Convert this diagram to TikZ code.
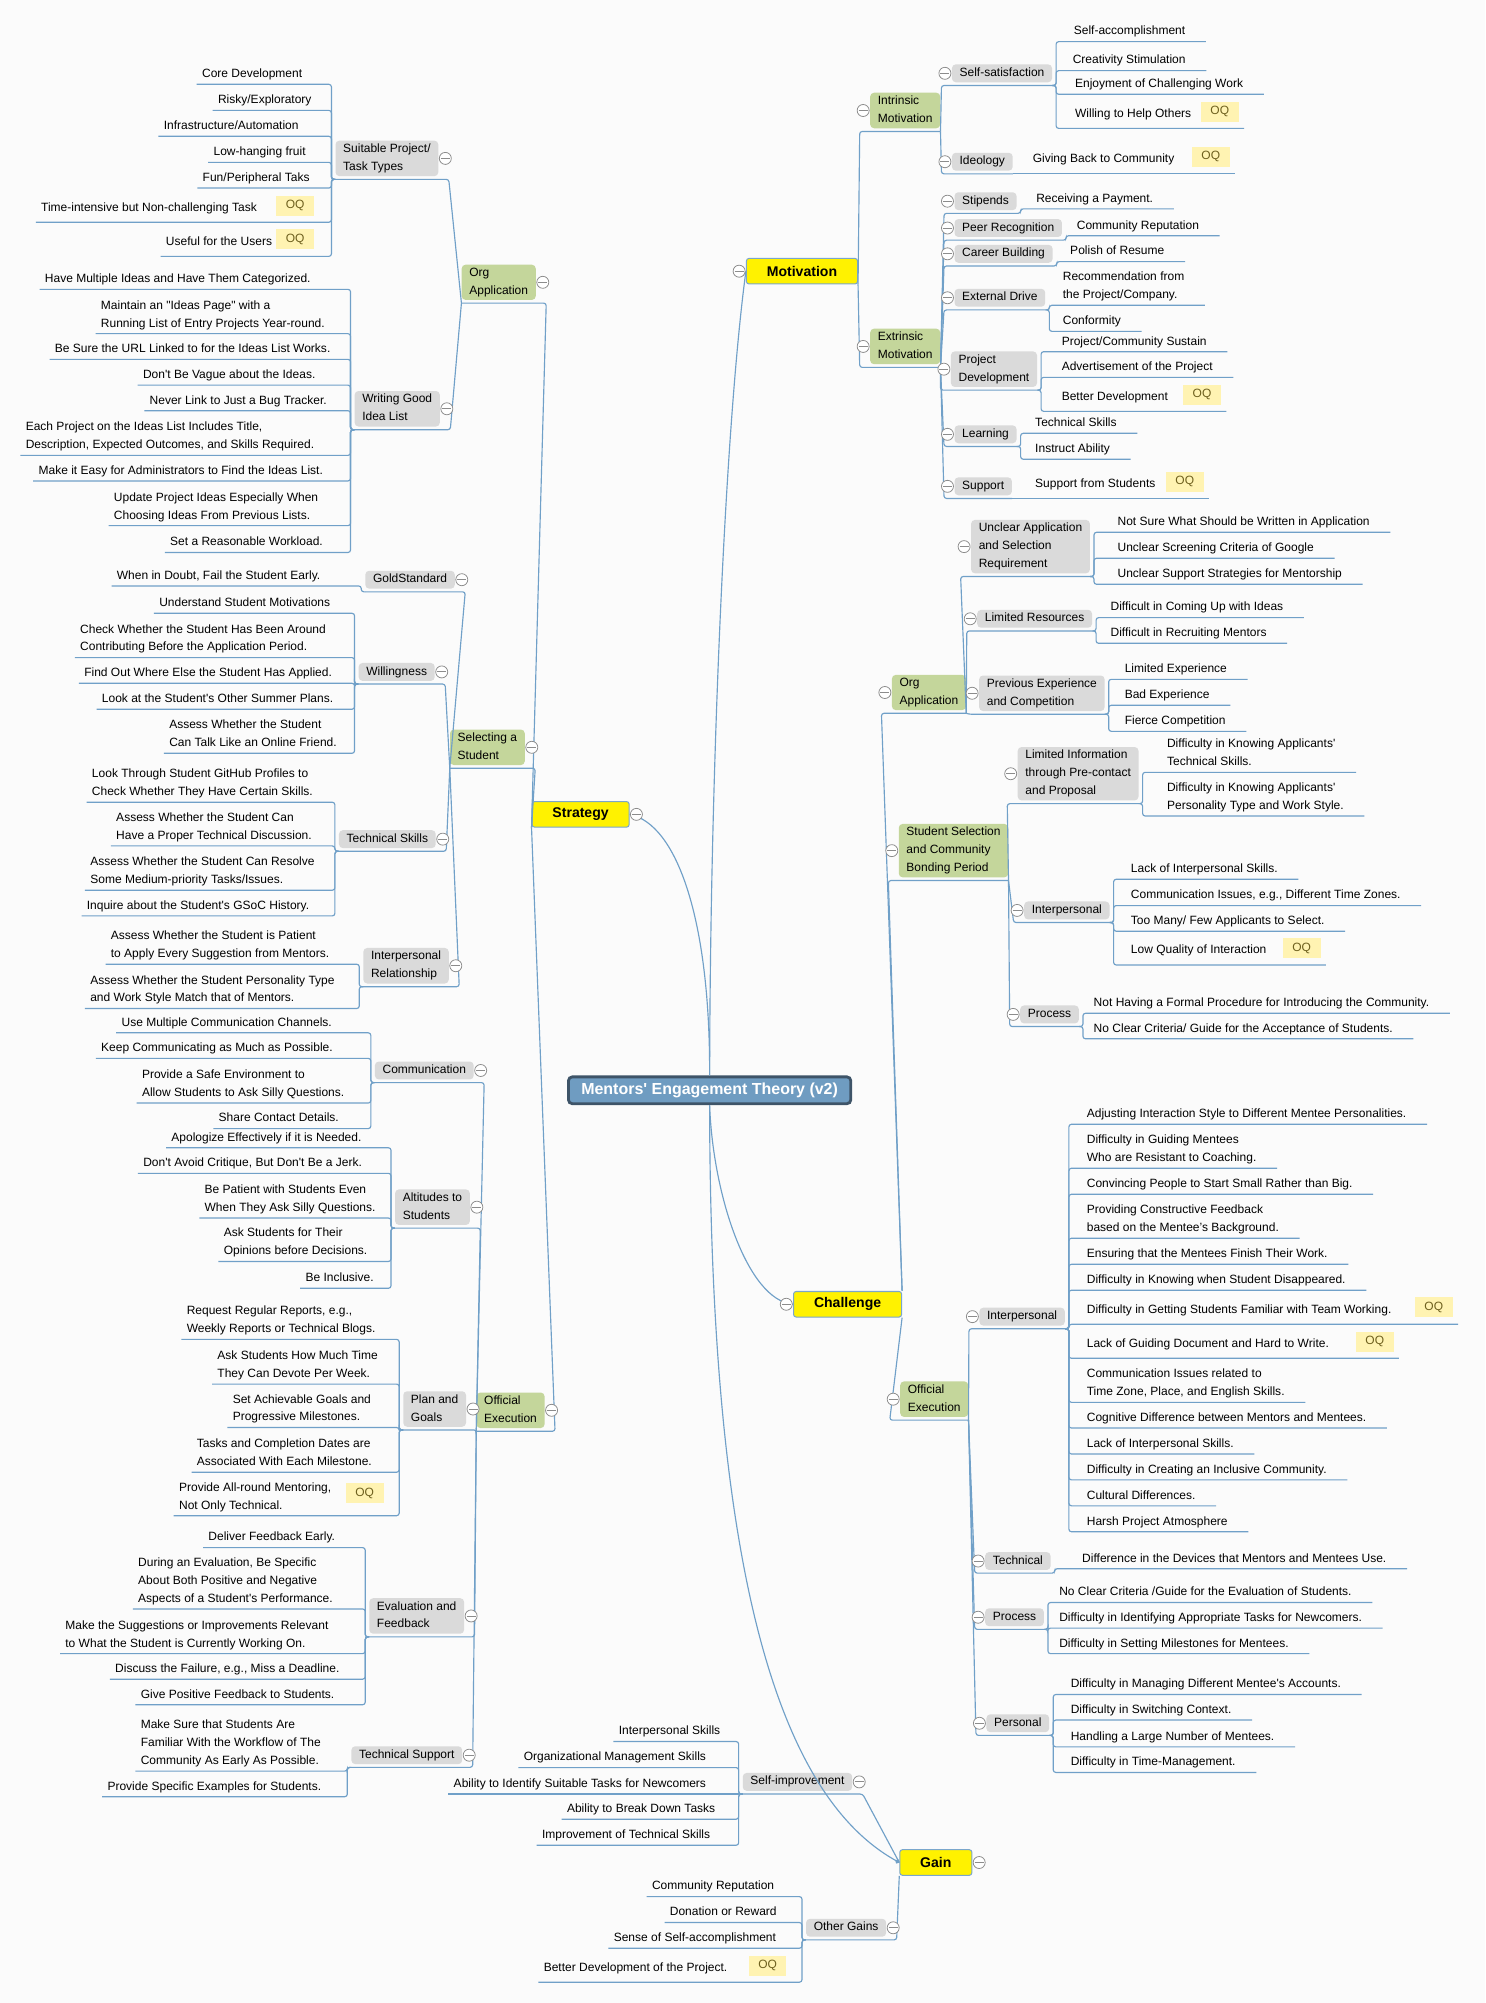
\documentclass[tikz,border=0pt]{standalone}
\usepackage{xcolor}
\usepackage{fontspec}
\setmainfont{Liberation Sans}[Ligatures=TeXOff]
\usepackage{tikz}
\usetikzlibrary{shapes, arrows.meta, positioning}

\definecolor{bgcol}{RGB}{251,251,251}
\definecolor{lineblue}{RGB}{112,160,200}
\definecolor{rootfill}{RGB}{111,156,193}
\definecolor{rootline}{RGB}{62,84,104}
\definecolor{mainline}{RGB}{122,166,204}
\definecolor{greenfill}{RGB}{196,214,155}
\definecolor{grayfill}{RGB}{218,218,218}
\definecolor{oqfill}{RGB}{255,243,178}
\definecolor{oqtext}{RGB}{110,96,30}
\definecolor{minusgray}{RGB}{140,140,140}
\newcommand{\mapfont}{\fontsize{9.4}{14}\selectfont}

\begin{document}
\begin{tikzpicture}
  [
    x=1pt, y=-1pt,
    Root/.style={rounded corners=3pt, fill=rootfill, draw=rootline, line width=2.2pt, text=white, font=\fontsize{12.5}{15}\selectfont\bfseries, minimum width=221pt, minimum height=21pt, inner sep=0pt},
    Main/.style={fill=yellow, draw=mainline, line width=0.8pt, rounded corners=2pt, font=\fontsize{11}{13}\selectfont\bfseries, inner xsep=16pt, inner ysep=0pt, minimum height=20pt},
    Green/.style={fill=greenfill, rounded corners=3pt, inner xsep=6pt, inner ysep=2.5pt, outer ysep=2.5pt, align=left, font=\mapfont, execute at end node={\rule[-2pt]{0pt}{2pt}}},
    Gray/.style={Green, fill=grayfill, minimum height=14pt},
    Leaf/.style={anchor=south west, inner xsep=4pt, inner ysep=3pt, align=left, font=\mapfont, execute at end node={\rule[-2pt]{0pt}{2pt}}},
    LeafQ/.style={Leaf, execute at end node={\rule[-5.5pt]{0pt}{5.5pt}}},
    Tag/.style={fill=oqfill, text=oqtext, font=\mapfont, minimum width=29.5pt, minimum height=15.6pt, inner sep=0pt},
    Minus/.style={circle, draw=minusgray, fill=white, line width=0.6pt, minimum size=9.4pt, inner sep=0pt, path picture={\draw[minusgray, line width=0.7pt] ([xshift=1.2pt]path picture bounding box.west) -- ([xshift=-1.2pt]path picture bounding box.east);}},
    Line/.style={draw=lineblue, line width=0.9pt, rounded corners=2pt}
  ]
  \fill[bgcol] (0,0) rectangle (1162.5,1568);
  \useasboundingbox (0,0) rectangle (1162.5,1568);

  % Nodes
  \node[Root] (r) at(555.5, 853.5) {Mentors' Engagement Theory (v2)};
  \node[Main] (m) at(627.8, 212.3) {Motivation};
  \node[Main] (s) at(454.5, 637.5) {Strategy};
  \node[Main] (c) at(663.5, 1021) {Challenge};
  \node[Main] (g) at(732.6, 1458) {Gain};

  % Motivation
  \node[Green, anchor=west] (m1) at(681, 86.5) {Intrinsic\\Motivation};
  \node[Green, anchor=west] (m2) at(681, 271.2) {Extrinsic\\Motivation};
  \node[Gray, anchor=west] (m1a) at(745, 57.4) {Self-satisfaction};
  \node[Gray, anchor=west] (m1b) at(745, 126.6) {Ideology};
  \node[Gray, anchor=west] (m2a) at(747, 157.5) {Stipends};
  \node[Gray, anchor=west] (m2b) at(747, 178.5) {Peer Recognition};
  \node[Gray, anchor=west] (m2c) at(747, 198.7) {Career Building};
  \node[Gray, anchor=west] (m2d) at(747, 233.1) {External Drive};
  \node[Gray, anchor=west] (m2e) at(744.2, 289) {Project\\Development};
  \node[Gray, anchor=west] (m2f) at(747, 340) {Learning};
  \node[Gray, anchor=west] (m2g) at(747, 380.7) {Support};

  \node[Leaf] (m1a1) at(836.4, 32.6) {Self-accomplishment};
  \node[Leaf] (m1a2) at(835.6, 55.3) {Creativity Stimulation};
  \node[Leaf] (m1a3) at(837.4, 73.8) {Enjoyment of Challenging Work};
  \node[LeafQ] (m1a4) at(837.4, 100.5) {Willing to Help Others};
  \node[LeafQ] (m1b1) at(804.3, 136.1) {Giving Back to Community};
  \node[Leaf] (m2a1) at(807, 163.5) {Receiving a Payment.};
  \node[Leaf] (m2b1) at(838.8, 184.5) {Community Reputation};
  \node[Leaf] (m2c1) at(833.6, 204.8) {Polish of Resume};
  \node[Leaf] (m2d1) at(827.8, 239) {Recommendation from\\the Project/Company.};
  \node[Leaf] (m2d2) at(827.8, 259.4) {Conformity};
  \node[Leaf] (m2e1) at(827, 275.3) {Project/Community Sustain};
  \node[Leaf] (m2e2) at(827, 295.4) {Advertisement of the Project};
  \node[LeafQ] (m2e3) at(827, 322) {Better Development};
  \node[Leaf] (m2f1) at(806.2, 339.2) {Technical Skills};
  \node[Leaf] (m2f2) at(806.2, 359.5) {Instruct Ability};
  \node[LeafQ] (m2g1) at(806.2, 390.2) {Support from Students};
  \node[Tag] (q1) at(954.9, 87.4) {OQ};
  \node[Tag] (q2) at(947.8, 122.6) {OQ};
  \node[Tag] (q3) at(941, 309) {OQ};
  \node[Tag] (q4) at(927.5, 377) {OQ};

  % Strategy
  \node[Green, anchor=east] (s1) at(419.6, 221) {Org\\Application};
  \node[Green, anchor=east] (s2) at(411, 585) {Selecting a\\Student};
  \node[Green, anchor=east] (s3) at(426.5, 1104) {Official\\Execution};
  \node[Gray, anchor=east] (s1a) at(343.3, 124) {Suitable Project/\\Task Types};
  \node[Gray, anchor=east] (s1b) at(344.5, 320) {Writing Good\\Idea List};
  \node[Gray, anchor=east] (s2a) at(356.2, 453.8) {GoldStandard};
  \node[Gray, anchor=east] (s2b) at(340.5, 526) {Willingness};
  \node[Gray, anchor=east] (s2c) at(341.3, 656.9) {Technical Skills};
  \node[Gray, anchor=east] (s2d) at(351.5, 756) {Interpersonal\\Relationship};
  \node[Gray, anchor=east] (s3a) at(371, 838) {Communication};
  \node[Gray, anchor=east] (s3b) at(368, 945) {Altitudes to\\Students};
  \node[Gray, anchor=east] (s3c) at(365, 1103) {Plan and\\Goals};
  \node[Gray, anchor=east] (s3d) at(363.5, 1265) {Evaluation and\\Feedback};
  \node[Gray, anchor=east] (s3e) at(362, 1374) {Technical Support};

  \node[Leaf] (s1a1) at(154, 66) {Core Development};
  \node[Leaf] (s1a2) at(166.5, 86.4) {Risky/Exploratory};
  \node[Leaf] (s1a3) at(124, 106.7) {Infrastructure/Automation};
  \node[Leaf] (s1a4) at(163, 127.1) {Low-hanging fruit};
  \node[Leaf] (s1a5) at(154.5, 147.2) {Fun/Peripheral Taks};
  \node[LeafQ] (s1a6) at(28, 174) {Time-intensive but Non-challenging Task};
  \node[LeafQ] (s1a7) at(125.7, 200.7) {Useful for the Users};
  \node[Tag] (q5) at(231.1, 161) {OQ};
  \node[Tag] (q6) at(231.1, 187.3) {OQ};
  \node[Leaf] (s1b1) at(31, 226.5) {Have Multiple Ideas and Have Them Categorized.};
  \node[Leaf] (s1b2) at(74.8, 261.2) {Maintain an "Ideas Page" with a\\Running List of Entry Projects Year-round.};
  \node[Leaf] (s1b3) at(38.8, 281.3) {Be Sure the URL Linked to for the Ideas List Works.};
  \node[Leaf] (s1b4) at(107.8, 301.5) {Don't Be Vague about the Ideas.};
  \node[Leaf] (s1b5) at(113, 321.5) {Never Link to Just a Bug Tracker.};
  \node[Leaf] (s1b6) at(16, 356.5) {Each Project on the Ideas List Includes Title,\\Description, Expected Outcomes, and Skills Required.};
  \node[Leaf] (s1b7) at(26, 376.5) {Make it Easy for Administrators to Find the Ideas List.};
  \node[Leaf] (s1b8) at(85, 411.5) {Update Project Ideas Especially When\\Choosing Ideas From Previous Lists.};
  \node[Leaf] (s1b9) at(129, 432.5) {Set a Reasonable Workload.};

  \node[Leaf] (s2a1) at(87.3, 458.7) {When in Doubt, Fail the Student Early.};
  \node[Leaf] (s2b1) at(120.5, 480.1) {Understand Student Motivations};
  \node[Leaf] (s2b2) at(58.6, 514.8) {Check Whether the Student Has Been Around\\Contributing Before the Application Period.};
  \node[Leaf] (s2b3) at(61.8, 534.9) {Find Out Where Else the Student Has Applied.};
  \node[Leaf] (s2b4) at(75.6, 555.2) {Look at the Student's Other Summer Plans.};
  \node[Leaf] (s2b5) at(128.3, 589.7) {Assess Whether the Student\\Can Talk Like an Online Friend.};
  \node[Leaf] (s2c1) at(67.8, 628) {Look Through Student GitHub Profiles to\\Check Whether They Have Certain Skills.};
  \node[Leaf] (s2c2) at(86.8, 662.2) {Assess Whether the Student Can\\Have a Proper Technical Discussion.};
  \node[Leaf] (s2c3) at(66.5, 696.9) {Assess Whether the Student Can Resolve\\Some Medium-priority Tasks/Issues.};
  \node[Leaf] (s2c4) at(63.8, 717) {Inquire about the Student's GSoC History.};
  \node[Leaf] (s2d1) at(82.6, 754.8) {Assess Whether the Student is Patient\\to Apply Every Suggestion from Mentors.};
  \node[Leaf] (s2d2) at(66.5, 789.5) {Assess Whether the Student Personality Type\\and Work Style Match that of Mentors.};

  \node[Leaf] (s3a1) at(91, 808.5) {Use Multiple Communication Channels.};
  \node[Leaf] (s3a2) at(75, 828.5) {Keep Communicating as Much as Possible.};
  \node[Leaf] (s3a3) at(107, 863.5) {Provide a Safe Environment to\\Allow Students to Ask Silly Questions.};
  \node[Leaf] (s3a4) at(167, 883.5) {Share Contact Details.};
  \node[Leaf] (s3b1) at(130, 898.5) {Apologize Effectively if it is Needed.};
  \node[Leaf] (s3b2) at(108, 918.5) {Don't Avoid Critique, But Don't Be a Jerk.};
  \node[Leaf] (s3b3) at(156, 953.5) {Be Patient with Students Even\\When They Ask Silly Questions.};
  \node[Leaf] (s3b4) at(171, 987.5) {Ask Students for Their\\Opinions before Decisions.};
  \node[Leaf] (s3b5) at(235, 1008.5) {Be Inclusive.};
  \node[Leaf] (s3c1) at(142, 1048.5) {Request Regular Reports, e.g.,\\Weekly Reports or Technical Blogs.};
  \node[Leaf] (s3c2) at(166, 1083.5) {Ask Students How Much Time\\They Can Devote Per Week.};
  \node[Leaf] (s3c3) at(178, 1117.5) {Set Achievable Goals and\\Progressive Milestones.};
  \node[Leaf] (s3c4) at(150, 1152.5) {Tasks and Completion Dates are\\Associated With Each Milestone.};
  \node[Leaf] (s3c5) at(136, 1186.5) {Provide All-round Mentoring,\\Not Only Technical.};
  \node[Tag] (q7) at(285.5, 1169) {OQ};
  \node[Leaf] (s3d1) at(159, 1211.5) {Deliver Feedback Early.};
  \node[Leaf] (s3d2) at(104, 1259.5) {During an Evaluation, Be Specific\\About Both Positive and Negative\\Aspects of a Student's Performance.};
  \node[Leaf] (s3d3) at(47, 1294.5) {Make the Suggestions or Improvements Relevant\\to What the Student is Currently Working On.};
  \node[Leaf] (s3d4) at(86, 1314.5) {Discuss the Failure, e.g., Miss a Deadline.};
  \node[Leaf] (s3d5) at(106, 1334.5) {Give Positive Feedback to Students.};
  \node[Leaf] (s3e1) at(106, 1386.5) {Make Sure that Students Are\\Familiar With the Workflow of The\\Community As Early As Possible.};
  \node[Leaf] (s3e2) at(80, 1406.5) {Provide Specific Examples for Students.};

  % Challenge
  \node[Green, anchor=west] (c1) at(698, 542.1) {Org\\Application};
  \node[Green, anchor=west] (c2) at(703.4, 665.9) {Student Selection\\and Community\\Bonding Period};
  \node[Green, anchor=west] (c3) at(704.5, 1095.3) {Official\\Execution};
  \node[Gray, anchor=west] (c1a) at(760, 427.9) {Unclear Application\\and Selection\\Requirement};
  \node[Gray, anchor=west] (c1b) at(764.8, 484.4) {Limited Resources};
  \node[Gray, anchor=west] (c1c) at(766.3, 542.7) {Previous Experience\\and Competition};
  \node[Gray, anchor=west] (c2a) at(796.5, 605.7) {Limited Information\\through Pre-contact\\and Proposal};
  \node[Gray, anchor=west] (c2b) at(801.5, 712.7) {Interpersonal};
  \node[Gray, anchor=west] (c2c) at(798.4, 794.1) {Process};
  \node[Gray, anchor=west] (c3a) at(766.5, 1030.7) {Interpersonal};
  \node[Gray, anchor=west] (c3b) at(771, 1222) {Technical};
  \node[Gray, anchor=west] (c3c) at(771, 1266) {Process};
  \node[Gray, anchor=west] (c3d) at(772, 1349) {Personal};

  \node[Leaf] (c1a1) at(870.7, 416.7) {Not Sure What Should be Written in Application};
  \node[Leaf] (c1a2) at(870.7, 437) {Unclear Screening Criteria of Google};
  \node[Leaf] (c1a3) at(870.7, 457.4) {Unclear Support Strategies for Mentorship};
  \node[Leaf] (c1b1) at(865.2, 483.5) {Difficult in Coming Up with Ideas};
  \node[Leaf] (c1b2) at(865.2, 503.6) {Difficult in Recruiting Mentors};
  \node[Leaf] (c1c1) at(876.3, 531.8) {Limited Experience};
  \node[Leaf] (c1c2) at(876.3, 552.1) {Bad Experience};
  \node[Leaf] (c1c3) at(876.3, 572.5) {Fierce Competition};
  \node[Leaf] (c2a1) at(909.4, 604.6) {Difficulty in Knowing Applicants'\\Technical Skills.};
  \node[Leaf] (c2a2) at(909.4, 638.8) {Difficulty in Knowing Applicants'\\Personality Type and Work Style.};
  \node[Leaf] (c2b1) at(881.1, 688.3) {Lack of Interpersonal Skills.};
  \node[Leaf] (c2b2) at(881.1, 708.9) {Communication Issues, e.g., Different Time Zones.};
  \node[Leaf] (c2b3) at(881.1, 729) {Too Many/ Few Applicants to Select.};
  \node[LeafQ] (c2b4) at(881.1, 755.4) {Low Quality of Interaction};
  \node[Tag] (q8) at(1019, 742.4) {OQ};
  \node[Leaf] (c2c1) at(852, 793.2) {Not Having a Formal Procedure for Introducing the Community.};
  \node[Leaf] (c2c2) at(852, 813.2) {No Clear Criteria/ Guide for the Acceptance of Students.};

  \node[Leaf] (c3a1) at(846.6, 880.1) {Adjusting Interaction Style to Different Mentee Personalities.};
  \node[Leaf] (c3a2) at(846.6, 914.5) {Difficulty in Guiding Mentees\\Who are Resistant to Coaching.};
  \node[Leaf] (c3a3) at(846.6, 934.9) {Convincing People to Start Small Rather than Big.};
  \node[Leaf] (c3a4) at(846.6, 969.3) {Providing Constructive Feedback\\based on the Mentee’s Background.};
  \node[Leaf] (c3a5) at(846.6, 989.7) {Ensuring that the Mentees Finish Their Work.};
  \node[Leaf] (c3a6) at(846.6, 1010) {Difficulty in Knowing when Student Disappeared.};
  \node[LeafQ] (c3a7) at(846.6, 1036.7) {Difficulty in Getting Students Familiar with Team Working.};
  \node[LeafQ] (c3a8) at(846.6, 1063.3) {Lack of Guiding Document and Hard to Write.};
  \node[Leaf] (c3a9) at(846.6, 1097.8) {Communication Issues related to\\Time Zone, Place, and English Skills.};
  \node[Leaf] (c3a10) at(846.6, 1117.9) {Cognitive Difference between Mentors and Mentees.};
  \node[Leaf] (c3a11) at(846.6, 1138.2) {Lack of Interpersonal Skills.};
  \node[Leaf] (c3a12) at(846.6, 1158.5) {Difficulty in Creating an Inclusive Community.};
  \node[Leaf] (c3a13) at(846.6, 1178.8) {Cultural Differences.};
  \node[Leaf] (c3a14) at(846.6, 1199.1) {Harsh Project Atmosphere};
  \node[Tag] (q9) at(1122.4, 1023.3) {OQ};
  \node[Tag] (q10) at(1076.2, 1050.3) {OQ};
  \node[Leaf] (c3b1) at(843, 1228) {Difference in the Devices that Mentors and Mentees Use.};
  \node[Leaf] (c3c1) at(825, 1254.5) {No Clear Criteria /Guide for the Evaluation of Students.};
  \node[Leaf] (c3c2) at(825, 1274.5) {Difficulty in Identifying Appropriate Tasks for Newcomers.};
  \node[Leaf] (c3c3) at(825, 1294.5) {Difficulty in Setting Milestones for Mentees.};
  \node[Leaf] (c3d1) at(834, 1326.5) {Difficulty in Managing Different Mentee's Accounts.};
  \node[Leaf] (c3d2) at(834, 1346.5) {Difficulty in Switching Context.};
  \node[Leaf] (c3d3) at(834, 1367.5) {Handling a Large Number of Mentees.};
  \node[Leaf] (c3d4) at(834, 1387.5) {Difficulty in Time-Management.};

  % Gain
  \node[Gray, anchor=east] (g1) at(667.3, 1394.9) {Self-improvement};
  \node[Gray, anchor=east] (g2) at(693.9, 1509.1) {Other Gains};
  \node[Leaf] (g1a) at(480.2, 1363.3) {Interpersonal Skills};
  \node[Leaf] (g1b) at(405.8, 1383.7) {Organizational Management Skills};
  \node[Leaf] (g1c) at(351, 1404.4) {Ability to Identify Suitable Tasks for Newcomers};
  \node[Leaf] (g1d) at(439.7, 1424.1) {Ability to Break Down Tasks};
  \node[Leaf] (g1e) at(420.1, 1444.5) {Improvement of Technical Skills};
  \node[Leaf] (g2a) at(506.2, 1484.7) {Community Reputation};
  \node[Leaf] (g2b) at(520.2, 1505) {Donation or Reward};
  \node[Leaf] (g2c) at(476.3, 1525.1) {Sense of Self-accomplishment};
  \node[LeafQ] (g2d) at(421.5, 1551.7) {Better Development of the Project.};
  \node[Tag] (q11) at(600.9, 1538.7) {OQ};

  % Lines
  \path [Line] (r.north) .. controls (556, 600) and (568, 330) .. (m.west);
  \path [Line] (r.north) .. controls (556, 720) and (530, 645) .. (s.east);
  \path [Line] (r.south) .. controls (558, 935) and (585, 1018) .. (c.west);
  \path [Line, -{Circle[length=3.5pt]}] (r.south) .. controls (556, 1200) and (600, 1400) .. (g.west);

  \path [Line] (m.south east) -- ([xshift=-8pt]m1.south west) -- (m1.south east);
  \path [Line] (m.south east) -- ([xshift=-8pt]m2.south west) -- (m2.south east);
  \path [Line] (s.south west) -- ([xshift=8pt]s1.south east) -- (s1.south west);
  \path [Line] (s.south west) -- ([xshift=8pt]s2.south east) -- (s2.south west);
  \path [Line] (s.south west) -- ([xshift=8pt]s3.south east) -- (s3.south west);
  \path [Line] (c.north east) -- ([xshift=-8pt]c1.south west) -- (c1.south east);
  \path [Line] (c.north east) -- ([xshift=-8pt]c2.south west) -- (c2.south east);
  \path [Line] (c.south east) -- ([xshift=-8pt]c3.south west) -- (c3.south east);
  \path [Line] (g.west) -- ([xshift=8pt]g1.south east) -- (g1.south west);
  \path [Line] (g.south west) -- ([xshift=8pt]g2.south east) -- (g2.south west);

  \path [Line] (m1.south east) -- ([xshift=-8pt]m1a.south west) -- (m1a.south east);
  \path [Line] (m1.south east) -- ([xshift=-8pt]m1b.south west) -- (m1b.south east);
  \path [Line] (m2.south east) -- ([xshift=-8pt]m2a.south west) -- (m2a.south east);
  \path [Line] (m2.south east) -- ([xshift=-8pt]m2b.south west) -- (m2b.south east);
  \path [Line] (m2.south east) -- ([xshift=-8pt]m2c.south west) -- (m2c.south east);
  \path [Line] (m2.south east) -- ([xshift=-8pt]m2d.south west) -- (m2d.south east);
  \path [Line] (m2.south east) -- ([xshift=-8pt]m2e.south west) -- (m2e.south east);
  \path [Line] (m2.south east) -- ([xshift=-8pt]m2f.south west) -- (m2f.south east);
  \path [Line] (m2.south east) -- ([xshift=-8pt]m2g.south west) -- (m2g.south east);
  \path [Line] (s1.south west) -- ([xshift=8pt]s1a.south east) -- (s1a.south west);
  \path [Line] (s1.south west) -- ([xshift=8pt]s1b.south east) -- (s1b.south west);
  \path [Line] (s2.south west) -- ([xshift=8pt]s2a.south east) -- (s2a.south west);
  \path [Line] (s2.south west) -- ([xshift=8pt]s2b.south east) -- (s2b.south west);
  \path [Line] (s2.south west) -- ([xshift=8pt]s2c.south east) -- (s2c.south west);
  \path [Line] (s2.south west) -- ([xshift=8pt]s2d.south east) -- (s2d.south west);
  \path [Line] (s3.south west) -- ([xshift=8pt]s3a.south east) -- (s3a.south west);
  \path [Line] (s3.south west) -- ([xshift=8pt]s3b.south east) -- (s3b.south west);
  \path [Line] (s3.south west) -- ([xshift=8pt]s3c.south east) -- (s3c.south west);
  \path [Line] (s3.south west) -- ([xshift=8pt]s3d.south east) -- (s3d.south west);
  \path [Line] (s3.south west) -- ([xshift=8pt]s3e.south east) -- (s3e.south west);
  \path [Line] (c1.south east) -- ([xshift=-8pt]c1a.south west) -- (c1a.south east);
  \path [Line] (c1.south east) -- ([xshift=-8pt]c1b.south west) -- (c1b.south east);
  \path [Line] (c1.south east) -- ([xshift=-8pt]c1c.south west) -- (c1c.south east);
  \path [Line] (c2.south east) -- ([xshift=-8pt]c2a.south west) -- (c2a.south east);
  \path [Line] (c2.south east) -- ([xshift=-8pt]c2b.south west) -- (c2b.south east);
  \path [Line] (c2.south east) -- ([xshift=-8pt]c2c.south west) -- (c2c.south east);
  \path [Line] (c3.south east) -- ([xshift=-8pt]c3a.south west) -- (c3a.south east);
  \path [Line] (c3.south east) -- ([xshift=-8pt]c3b.south west) -- (c3b.south east);
  \path [Line] (c3.south east) -- ([xshift=-8pt]c3c.south west) -- (c3c.south east);
  \path [Line] (c3.south east) -- ([xshift=-8pt]c3d.south west) -- (c3d.south east);

  \path [Line] (m1a.south east) -- ++(3,0) |- (m1a1.south west) -- (m1a1.south east) -- ++(12,0);
  \path [Line] (m1a.south east) -- ++(3,0) |- (m1a2.south west) -- (m1a2.south east) -- ++(12,0);
  \path [Line] (m1a.south east) -- ++(3,0) |- (m1a3.south west) -- (m1a3.south east) -- ++(12,0);
  \path [Line] (m1a.south east) -- ++(3,0) |- (m1a4.south west) -- (m1a4.south east -| q1.east) -- ++(4,0);
  \path [Line] (m1b.south east) -- (m1b1.south west) -- (m1b1.south east -| q2.east) -- ++(4,0);
  \path [Line] (m2a.south east) -- ++(3,0) |- (m2a1.south west) -- (m2a1.south east) -- ++(12,0);
  \path [Line] (m2b.south east) -- ++(3,0) |- (m2b1.south west) -- (m2b1.south east) -- ++(12,0);
  \path [Line] (m2c.south east) -- ++(3,0) |- (m2c1.south west) -- (m2c1.south east) -- ++(12,0);
  \path [Line] (m2d.south east) -- ++(3,0) |- (m2d1.south west) -- (m2d1.south east) -- ++(12,0);
  \path [Line] (m2d.south east) -- ++(3,0) |- (m2d2.south west) -- (m2d2.south east) -- ++(12,0);
  \path [Line] (m2e.south east) -- ++(3,0) |- (m2e1.south west) -- (m2e1.south east) -- ++(12,0);
  \path [Line] (m2e.south east) -- ++(3,0) |- (m2e2.south west) -- (m2e2.south east) -- ++(12,0);
  \path [Line] (m2e.south east) -- ++(3,0) |- (m2e3.south west) -- (m2e3.south east -| q3.east) -- ++(4,0);
  \path [Line] (m2f.south east) -- ++(3,0) |- (m2f1.south west) -- (m2f1.south east) -- ++(12,0);
  \path [Line] (m2f.south east) -- ++(3,0) |- (m2f2.south west) -- (m2f2.south east) -- ++(12,0);
  \path [Line] (m2g.south east) -- (m2g1.south west) -- (m2g1.south east -| q4.east) -- ++(4,0);

  \path [Line] (s1a.south west) -- ++(-3,0) |- (s1a1.south east) -- (s1a1.south west);
  \path [Line] (s1a.south west) -- ++(-3,0) |- (s1a2.south east) -- (s1a2.south west);
  \path [Line] (s1a.south west) -- ++(-3,0) |- (s1a3.south east) -- (s1a3.south west);
  \path [Line] (s1a.south west) -- ++(-3,0) |- (s1a4.south east) -- (s1a4.south west);
  \path [Line] (s1a.south west) -- ++(-3,0) |- (s1a5.south east) -- (s1a5.south west);
  \path [Line] (s1a.south west) -- ++(-3,0) |- (s1a6.south east) -- (s1a6.south west);
  \path [Line] (s1a.south west) -- ++(-3,0) |- (s1a7.south east) -- (s1a7.south west);
  \path [Line] (s1b.south west) -- ++(-3,0) |- (s1b1.south east) -- (s1b1.south west);
  \path [Line] (s1b.south west) -- ++(-3,0) |- (s1b2.south east) -- (s1b2.south west);
  \path [Line] (s1b.south west) -- ++(-3,0) |- (s1b3.south east) -- (s1b3.south west);
  \path [Line] (s1b.south west) -- ++(-3,0) |- (s1b4.south east) -- (s1b4.south west);
  \path [Line] (s1b.south west) -- ++(-3,0) |- (s1b5.south east) -- (s1b5.south west);
  \path [Line] (s1b.south west) -- ++(-3,0) |- (s1b6.south east) -- (s1b6.south west);
  \path [Line] (s1b.south west) -- ++(-3,0) |- (s1b7.south east) -- (s1b7.south west);
  \path [Line] (s1b.south west) -- ++(-3,0) |- (s1b8.south east) -- (s1b8.south west);
  \path [Line] (s1b.south west) -- ++(-3,0) |- (s1b9.south east) -- (s1b9.south west);
  \path [Line] (s2a.south west) -- ++(-3,0) |- (s2a1.south east) -- (s2a1.south west);
  \path [Line] (s2b.south west) -- ++(-3,0) |- (s2b1.south east) -- (s2b1.south west);
  \path [Line] (s2b.south west) -- ++(-3,0) |- (s2b2.south east) -- (s2b2.south west);
  \path [Line] (s2b.south west) -- ++(-3,0) |- (s2b3.south east) -- (s2b3.south west);
  \path [Line] (s2b.south west) -- ++(-3,0) |- (s2b4.south east) -- (s2b4.south west);
  \path [Line] (s2b.south west) -- ++(-3,0) |- (s2b5.south east) -- (s2b5.south west);
  \path [Line] (s2c.south west) -- ++(-3,0) |- (s2c1.south east) -- (s2c1.south west);
  \path [Line] (s2c.south west) -- ++(-3,0) |- (s2c2.south east) -- (s2c2.south west);
  \path [Line] (s2c.south west) -- ++(-3,0) |- (s2c3.south east) -- (s2c3.south west);
  \path [Line] (s2c.south west) -- ++(-3,0) |- (s2c4.south east) -- (s2c4.south west);
  \path [Line] (s2d.south west) -- ++(-3,0) |- (s2d1.south east) -- (s2d1.south west);
  \path [Line] (s2d.south west) -- ++(-3,0) |- (s2d2.south east) -- (s2d2.south west);
  \path [Line] (s3a.south west) -- ++(-3,0) |- (s3a1.south east) -- (s3a1.south west);
  \path [Line] (s3a.south west) -- ++(-3,0) |- (s3a2.south east) -- (s3a2.south west);
  \path [Line] (s3a.south west) -- ++(-3,0) |- (s3a3.south east) -- (s3a3.south west);
  \path [Line] (s3a.south west) -- ++(-3,0) |- (s3a4.south east) -- (s3a4.south west);
  \path [Line] (s3b.south west) -- ++(-3,0) |- (s3b1.south east) -- (s3b1.south west);
  \path [Line] (s3b.south west) -- ++(-3,0) |- (s3b2.south east) -- (s3b2.south west);
  \path [Line] (s3b.south west) -- ++(-3,0) |- (s3b3.south east) -- (s3b3.south west);
  \path [Line] (s3b.south west) -- ++(-3,0) |- (s3b4.south east) -- (s3b4.south west);
  \path [Line] (s3b.south west) -- ++(-3,0) |- (s3b5.south east) -- (s3b5.south west);
  \path [Line] (s3c.south west) -- ++(-3,0) |- (s3c1.south east) -- (s3c1.south west);
  \path [Line] (s3c.south west) -- ++(-3,0) |- (s3c2.south east) -- (s3c2.south west);
  \path [Line] (s3c.south west) -- ++(-3,0) |- (s3c3.south east) -- (s3c3.south west);
  \path [Line] (s3c.south west) -- ++(-3,0) |- (s3c4.south east) -- (s3c4.south west);
  \path [Line] (s3c.south west) -- ++(-3,0) |- (s3c5.south east) -- (s3c5.south west);
  \path [Line] (s3d.south west) -- ++(-3,0) |- (s3d1.south east) -- (s3d1.south west);
  \path [Line] (s3d.south west) -- ++(-3,0) |- (s3d2.south east) -- (s3d2.south west);
  \path [Line] (s3d.south west) -- ++(-3,0) |- (s3d3.south east) -- (s3d3.south west);
  \path [Line] (s3d.south west) -- ++(-3,0) |- (s3d4.south east) -- (s3d4.south west);
  \path [Line] (s3d.south west) -- ++(-3,0) |- (s3d5.south east) -- (s3d5.south west);
  \path [Line] (s3e.south west) -- ++(-3,0) |- (s3e1.south east) -- (s3e1.south west);
  \path [Line] (s3e.south west) -- ++(-3,0) |- (s3e2.south east) -- (s3e2.south west);

  \path [Line] (c1a.south east) -- ++(3,0) |- (c1a1.south west) -- (c1a1.south east) -- ++(12,0);
  \path [Line] (c1a.south east) -- ++(3,0) |- (c1a2.south west) -- (c1a2.south east) -- ++(12,0);
  \path [Line] (c1a.south east) -- ++(3,0) |- (c1a3.south west) -- (c1a3.south east) -- ++(12,0);
  \path [Line] (c1b.south east) -- ++(3,0) |- (c1b1.south west) -- (c1b1.south east) -- ++(12,0);
  \path [Line] (c1b.south east) -- ++(3,0) |- (c1b2.south west) -- (c1b2.south east) -- ++(12,0);
  \path [Line] (c1c.south east) -- ++(3,0) |- (c1c1.south west) -- (c1c1.south east) -- ++(12,0);
  \path [Line] (c1c.south east) -- ++(3,0) |- (c1c2.south west) -- (c1c2.south east) -- ++(12,0);
  \path [Line] (c1c.south east) -- ++(3,0) |- (c1c3.south west) -- (c1c3.south east) -- ++(12,0);
  \path [Line] (c2a.south east) -- ++(3,0) |- (c2a1.south west) -- (c2a1.south east) -- ++(12,0);
  \path [Line] (c2a.south east) -- ++(3,0) |- (c2a2.south west) -- (c2a2.south east) -- ++(12,0);
  \path [Line] (c2b.south east) -- ++(3,0) |- (c2b1.south west) -- (c2b1.south east) -- ++(12,0);
  \path [Line] (c2b.south east) -- ++(3,0) |- (c2b2.south west) -- (c2b2.south east) -- ++(12,0);
  \path [Line] (c2b.south east) -- ++(3,0) |- (c2b3.south west) -- (c2b3.south east) -- ++(12,0);
  \path [Line] (c2b.south east) -- ++(3,0) |- (c2b4.south west) -- (c2b4.south east -| q8.east) -- ++(4,0);
  \path [Line] (c2c.south east) -- ++(3,0) |- (c2c1.south west) -- (c2c1.south east) -- ++(12,0);
  \path [Line] (c2c.south east) -- ++(3,0) |- (c2c2.south west) -- (c2c2.south east) -- ++(12,0);
  \path [Line] (c3a.south east) -- ++(3,0) |- (c3a1.south west) -- (c3a1.south east) -- ++(12,0);
  \path [Line] (c3a.south east) -- ++(3,0) |- (c3a2.south west) -- (c3a2.south east) -- ++(12,0);
  \path [Line] (c3a.south east) -- ++(3,0) |- (c3a3.south west) -- (c3a3.south east) -- ++(12,0);
  \path [Line] (c3a.south east) -- ++(3,0) |- (c3a4.south west) -- (c3a4.south east) -- ++(12,0);
  \path [Line] (c3a.south east) -- ++(3,0) |- (c3a5.south west) -- (c3a5.south east) -- ++(12,0);
  \path [Line] (c3a.south east) -- ++(3,0) |- (c3a6.south west) -- (c3a6.south east) -- ++(12,0);
  \path [Line] (c3a.south east) -- ++(3,0) |- (c3a7.south west) -- (c3a7.south east -| q9.east) -- ++(4,0);
  \path [Line] (c3a.south east) -- ++(3,0) |- (c3a8.south west) -- (c3a8.south east -| q10.east) -- ++(4,0);
  \path [Line] (c3a.south east) -- ++(3,0) |- (c3a9.south west) -- (c3a9.south east) -- ++(12,0);
  \path [Line] (c3a.south east) -- ++(3,0) |- (c3a10.south west) -- (c3a10.south east) -- ++(12,0);
  \path [Line] (c3a.south east) -- ++(3,0) |- (c3a11.south west) -- (c3a11.south east) -- ++(12,0);
  \path [Line] (c3a.south east) -- ++(3,0) |- (c3a12.south west) -- (c3a12.south east) -- ++(12,0);
  \path [Line] (c3a.south east) -- ++(3,0) |- (c3a13.south west) -- (c3a13.south east) -- ++(12,0);
  \path [Line] (c3a.south east) -- ++(3,0) |- (c3a14.south west) -- (c3a14.south east) -- ++(12,0);
  \path [Line] (c3b.south east) -- ++(3,0) |- (c3b1.south west) -- (c3b1.south east) -- ++(12,0);
  \path [Line] (c3c.south east) -- ++(3,0) |- (c3c1.south west) -- (c3c1.south east) -- ++(12,0);
  \path [Line] (c3c.south east) -- ++(3,0) |- (c3c2.south west) -- (c3c2.south east) -- ++(12,0);
  \path [Line] (c3c.south east) -- ++(3,0) |- (c3c3.south west) -- (c3c3.south east) -- ++(12,0);
  \path [Line] (c3d.south east) -- ++(3,0) |- (c3d1.south west) -- (c3d1.south east) -- ++(12,0);
  \path [Line] (c3d.south east) -- ++(3,0) |- (c3d2.south west) -- (c3d2.south east) -- ++(12,0);
  \path [Line] (c3d.south east) -- ++(3,0) |- (c3d3.south west) -- (c3d3.south east) -- ++(12,0);
  \path [Line] (c3d.south east) -- ++(3,0) |- (c3d4.south west) -- (c3d4.south east) -- ++(12,0);

  \path [Line] (g1.south west) -- ++(-3,0) |- (g1a.south east) -- (g1a.south west);
  \path [Line] (g1.south west) -- ++(-3,0) |- (g1b.south east) -- (g1b.south west);
  \path [Line] (g1.south west) -- (g1c.south east) -- (g1c.south west);
  \path [Line] (g1.south west) -- ++(-3,0) |- (g1d.south east) -- (g1d.south west);
  \path [Line] (g1.south west) -- ++(-3,0) |- (g1e.south east) -- (g1e.south west);
  \path [Line] (g2.south west) -- ++(-3,0) |- (g2a.south east) -- (g2a.south west);
  \path [Line] (g2.south west) -- ++(-3,0) |- (g2b.south east) -- (g2b.south west);
  \path [Line] (g2.south west) -- ++(-3,0) |- (g2c.south east) -- (g2c.south west);
  \path [Line] (g2.south west) -- ++(-3,0) |- (g2d.south east) -- (g2d.south west);

  % Collapse buttons
  \node[Minus, left=0.3pt of m] (mo) {};
  \node[Minus, right=0.3pt of s] (so) {};
  \node[Minus, left=0.3pt of c] (co) {};
  \node[Minus, right=0.3pt of g] (go) {};
  \node[Minus, left=0.3pt of m1] (m1o) {};
  \node[Minus, left=0.3pt of m2] (m2o) {};
  \node[Minus, left=0.3pt of m1a] (m1ao) {};
  \node[Minus, left=0.3pt of m1b] (m1bo) {};
  \node[Minus, left=0.3pt of m2a] (m2ao) {};
  \node[Minus, left=0.3pt of m2b] (m2bo) {};
  \node[Minus, left=0.3pt of m2c] (m2co) {};
  \node[Minus, left=0.3pt of m2d] (m2do) {};
  \node[Minus, left=0.3pt of m2e] (m2eo) {};
  \node[Minus, left=0.3pt of m2f] (m2fo) {};
  \node[Minus, left=0.3pt of m2g] (m2go) {};
  \node[Minus, right=0.3pt of s1] (s1o) {};
  \node[Minus, right=0.3pt of s2] (s2o) {};
  \node[Minus, right=0.3pt of s3] (s3o) {};
  \node[Minus, right=0.3pt of s1a] (s1ao) {};
  \node[Minus, right=0.3pt of s1b] (s1bo) {};
  \node[Minus, right=0.3pt of s2a] (s2ao) {};
  \node[Minus, right=0.3pt of s2b] (s2bo) {};
  \node[Minus, right=0.3pt of s2c] (s2co) {};
  \node[Minus, right=0.3pt of s2d] (s2do) {};
  \node[Minus, right=0.3pt of s3a] (s3ao) {};
  \node[Minus, right=0.3pt of s3b] (s3bo) {};
  \node[Minus, right=0.3pt of s3c] (s3co) {};
  \node[Minus, right=0.3pt of s3d] (s3do) {};
  \node[Minus, right=0.3pt of s3e] (s3eo) {};
  \node[Minus, left=0.3pt of c1] (c1o) {};
  \node[Minus, left=0.3pt of c2] (c2o) {};
  \node[Minus, left=0.3pt of c3] (c3o) {};
  \node[Minus, left=0.3pt of c1a] (c1ao) {};
  \node[Minus, left=0.3pt of c1b] (c1bo) {};
  \node[Minus, left=0.3pt of c1c] (c1co) {};
  \node[Minus, left=0.3pt of c2a] (c2ao) {};
  \node[Minus, left=0.3pt of c2b] (c2bo) {};
  \node[Minus, left=0.3pt of c2c] (c2co) {};
  \node[Minus, left=0.3pt of c3a] (c3ao) {};
  \node[Minus, left=0.3pt of c3b] (c3bo) {};
  \node[Minus, left=0.3pt of c3c] (c3co) {};
  \node[Minus, left=0.3pt of c3d] (c3do) {};
  \node[Minus, right=0.3pt of g1] (g1o) {};
  \node[Minus, right=0.3pt of g2] (g2o) {};

\end{tikzpicture}
\end{document}
